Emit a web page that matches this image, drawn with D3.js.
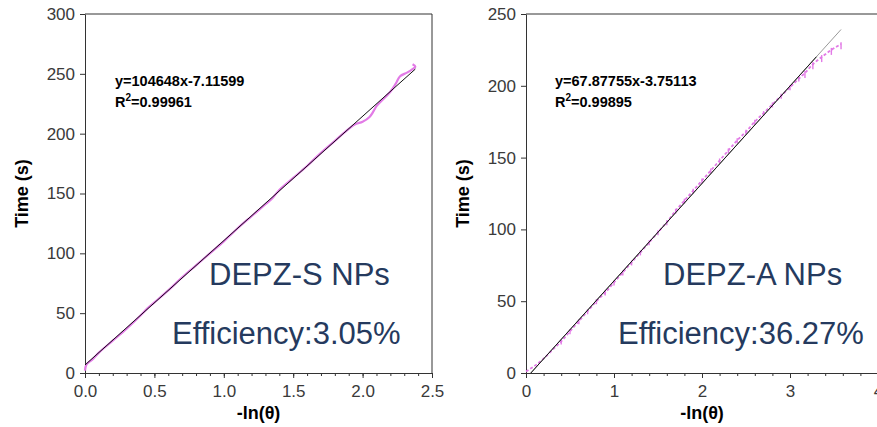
<!DOCTYPE html>
<html>
<head>
<meta charset="utf-8">
<script src="https://cdn.jsdelivr.net/npm/d3@7"></script>
<style>
  body { margin: 0; background: #fff; }
  svg { display: block; font-family: "Liberation Sans", Arial, sans-serif; }
  .axis text { font-size: 17px; fill: #3a3a3a; }
  .axis path, .axis line { stroke: #333; }
</style>
</head>
<body>
<div class="svg-container"></div>
<script>
// DEPZ-S NPs: measured -ln(theta) vs time
let dataS = [
  [0.00, 2], [0.01, 7], [0.05, 11], [0.1, 17], [0.2, 27], [0.3, 37], [0.4, 48],
  [0.45, 54], [0.5, 59], [0.6, 69], [0.7, 80], [0.8, 90], [0.9, 100], [1.0, 110],
  [1.1, 121], [1.2, 131], [1.3, 141], [1.35, 146], [1.4, 153], [1.5, 163],
  [1.6, 173], [1.7, 184], [1.8, 194], [1.9, 204], [1.95, 208], [2.0, 210],
  [2.05, 214], [2.08, 219], [2.1, 223], [2.2, 235], [2.24, 242], [2.27, 248],
  [2.32, 251], [2.36, 254], [2.38, 256], [2.36, 258]
];
let fitS = [[0, 6.7], [2.38, 254]];

// DEPZ-A NPs
let dataA = [
  [0, 1], [0.05, 3], [0.1, 5], [0.2, 10], [0.3, 16], [0.4, 22], [0.5, 29],
  [0.6, 36], [0.7, 43], [0.8, 50], [0.9, 56], [1.0, 63], [1.1, 70], [1.2, 77],
  [1.3, 84], [1.4, 91], [1.5, 98], [1.6, 105], [1.7, 113], [1.8, 120],
  [1.9, 127], [2.0, 134], [2.1, 141], [2.2, 148], [2.3, 155], [2.4, 162],
  [2.5, 168], [2.6, 175], [2.7, 181], [2.8, 187], [2.9, 193], [3.0, 199],
  [3.1, 205], [3.17, 209], [3.26, 215], [3.36, 220], [3.47, 225], [3.58, 229]
];
let fitA = [[0.055, 0], [3.58, 239.2]];
let fitABlack = [[0.055, 0], [3.3, 220.2]];

let xTicksS = [0, 0.5, 1.0, 1.5, 2.0, 2.5];
let yTicksS = [0, 50, 100, 150, 200, 250, 300];
let xTicksA = [0, 1, 2, 3, 4];
let yTicksA = [0, 50, 100, 150, 200, 250];

let width = 877;
let height = 427;
let plotTop = 14;
let plotBottom = 373;

let svg = d3.select('.svg-container')
  .append('svg')
  .attr('width', width)
  .attr('height', height)

svg.append('defs').append('clipPath')
  .attr('id', 'leftClip')
  .append('rect')
  .attr('x', 0).attr('y', 0)
  .attr('width', 444).attr('height', height)

function drawPanel (g, opts) {
  let xScale = d3.scaleLinear().domain(opts.xDomain).range([opts.left, opts.right])
  let yScale = d3.scaleLinear().domain(opts.yDomain).range([plotBottom, plotTop])

  // frame: top and right edges
  g.append('line')
    .attr('x1', opts.left).attr('x2', opts.frameRight)
    .attr('y1', plotTop).attr('y2', plotTop)
    .attr('stroke', '#333')
  if (opts.rightBorder) {
    g.append('line')
      .attr('x1', opts.right).attr('x2', opts.right)
      .attr('y1', plotTop).attr('y2', plotBottom)
      .attr('stroke', '#333')
  }

  // minor x ticks
  g.append('g')
    .attr('class', 'axis')
    .attr('transform', `translate(0, ${plotBottom})`)
    .call(d3.axisBottom(xScale).tickValues(opts.xMinor).tickSize(3).tickFormat(''))
    .select('.domain').remove()

  g.append('g')
    .attr('class', 'axis')
    .attr('transform', `translate(0, ${plotBottom})`)
    .call(d3.axisBottom(xScale)
      .tickValues(opts.xTicks)
      .tickFormat(opts.xFormat)
      .tickSize(5).tickSizeOuter(0).tickPadding(7))

  g.append('g')
    .attr('class', 'axis')
    .attr('transform', `translate(${opts.left}, 0)`)
    .call(d3.axisLeft(yScale)
      .tickValues(opts.yTicks)
      .tickSize(5).tickSizeOuter(0).tickPadding(5))

  let line = d3.line()
    .x(d => xScale(d[0]))
    .y(d => yScale(d[1]))

  if (opts.dashed) {
    g.append('path')
      .attr('d', line.curve(d3.curveMonotoneX)(opts.data))
      .attr('fill', 'none')
      .attr('stroke', '#e27be6')
      .attr('stroke-width', 1.8)
      .attr('stroke-dasharray', '3,2')
    g.selectAll('.mark')
      .data(opts.data.filter(d => d[0] > 0.3))
      .enter()
      .append('line')
      .attr('x1', d => xScale(d[0])).attr('x2', d => xScale(d[0]))
      .attr('y1', d => yScale(d[1]) - 2)
      .attr('y2', d => yScale(d[1]) + (d[0] > 3.1 ? 5 : 3))
      .attr('stroke', '#e27be6')
      .attr('stroke-width', 1.4)
    line.curve(d3.curveLinear)
  } else {
    g.append('path')
      .attr('d', line.curve(d3.curveCatmullRom)(opts.data))
      .attr('fill', 'none')
      .attr('stroke', '#e27be6')
      .attr('stroke-width', 2.2)
    line.curve(d3.curveLinear)
  }

  opts.fits.forEach(f => {
    g.append('path')
      .attr('d', line(f.pts))
      .attr('fill', 'none')
      .attr('stroke', f.color)
      .attr('stroke-width', 1)
  })

  g.append('text')
    .attr('transform', `translate(${opts.yTitleX}, ${(plotTop + plotBottom) / 2}) rotate(-90)`)
    .style('text-anchor', 'middle')
    .style('font-weight', 'bold')
    .style('font-size', '18px')
    .text('Time (s)')

  g.append('text')
    .attr('x', (opts.left + opts.right) / 2 + opts.xTitleShift)
    .attr('y', 419)
    .style('text-anchor', 'middle')
    .style('font-weight', 'bold')
    .style('font-size', '18px')
    .text('-ln(θ)')

  g.append('text')
    .attr('x', opts.eqX)
    .attr('y', 86)
    .style('font-weight', 'bold')
    .style('font-size', '14.5px')
    .text(opts.equation)

  let r2 = g.append('text')
    .attr('x', opts.eqX)
    .attr('y', 107)
    .style('font-weight', 'bold')
    .style('font-size', '14.5px')
  r2.append('tspan').text('R')
  r2.append('tspan').attr('dy', -6).style('font-size', '10px').text('2')
  r2.append('tspan').attr('dy', 6).text('=' + opts.r2)

  g.append('text')
    .attr('x', opts.nameX)
    .attr('y', 285)
    .style('font-size', '31px')
    .style('fill', '#253a5e')
    .text(opts.name)

  g.append('text')
    .attr('x', opts.effX)
    .attr('y', 344)
    .style('font-size', '31px')
    .style('fill', '#253a5e')
    .text('Efficiency:' + opts.efficiency)
}

let leftPanel = svg.append('g').attr('clip-path', 'url(#leftClip)')
drawPanel(leftPanel, {
  xDomain: [0, 2.5], yDomain: [0, 300],
  left: 85, right: 432, frameRight: 432, rightBorder: true,
  xTicks: xTicksS, yTicks: yTicksS,
  xMinor: d3.range(0, 2.51, 0.1),
  xFormat: d3.format('.1f'),
  data: dataS, dashed: false,
  fits: [{ pts: fitS, color: '#111' }],
  yTitleX: 28, xTitleShift: 0,
  eqX: 115, equation: 'y=104648x-7.11599', r2: '0.99961',
  nameX: 209, name: 'DEPZ-S NPs',
  effX: 172, efficiency: '3.05%'
})

let rightPanel = svg.append('g')
drawPanel(rightPanel, {
  xDomain: [0, 4], yDomain: [0, 250],
  left: 526, right: 878, frameRight: 877, rightBorder: false,
  xTicks: xTicksA, yTicks: yTicksA,
  xMinor: d3.range(0, 4.01, 0.2),
  xFormat: d3.format('d'),
  data: dataA, dashed: true,
  fits: [{ pts: fitA, color: '#999' }, { pts: fitABlack, color: '#111' }],
  yTitleX: 469, xTitleShift: 0,
  eqX: 555, equation: 'y=67.87755x-3.75113', r2: '0.99895',
  nameX: 663, name: 'DEPZ-A NPs',
  effX: 618, efficiency: '36.27%'
})
</script>
</body>
</html>
